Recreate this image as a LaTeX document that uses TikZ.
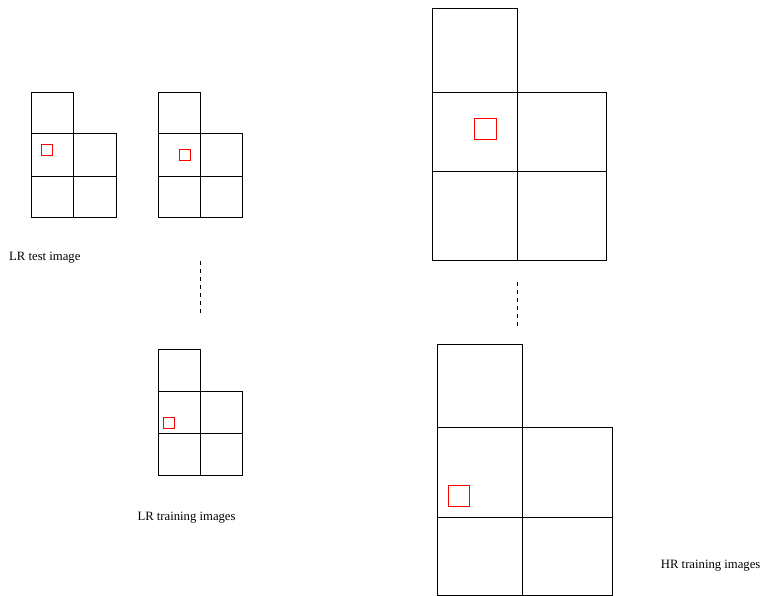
\documentclass[tikz,border=0pt]{standalone}
\usepackage{fontspec}
\setmainfont{Liberation Serif}
\newcommand\myLshape[7]{%
  \draw[cellline] (#1,#4) rectangle (#2,#5);
  \draw[cellline] (#1,#5) rectangle (#3,#7);
  \draw[cellline] (#2,#5) -- (#2,#7);
  \draw[cellline] (#1,#6) -- (#3,#6);
}
\begin{document}
\begin{tikzpicture}[x=1pt,y=-1pt,
  cellline/.style={draw=black,line width=0.9pt},
  patch/.style={draw=red,line width=0.8pt},
  lbl/.style={anchor=base west,inner sep=0pt,font=\fontsize{12.7}{15}\selectfont},
  dotline/.style={draw=black,line width=0.8pt,dash pattern=on 3.5pt off 4.5pt}]
\useasboundingbox (0,0) rectangle (760,596);
% LR test image
\myLshape{31.3}{73.3}{116}{92}{133.7}{176}{217.7}
\draw[patch] (41.7,144.3) rectangle (52.3,155.3);
% LR training image 1
\myLshape{158}{200.3}{242.7}{92}{133.7}{176}{217.7}
\draw[patch] (179,149.7) rectangle (190,160.3);
% LR training image 2
\myLshape{158}{200.3}{242.3}{349}{391}{433.3}{475}
\draw[patch] (163,417.3) rectangle (174,428);
% HR training image 1
\myLshape{432.3}{517.3}{606.7}{8}{92}{171}{260}
\draw[patch] (474.7,118.3) rectangle (496.3,139.3);
% HR training image 2
\myLshape{437.7}{522.3}{612.3}{344}{427.7}{517.3}{595.3}
\draw[patch] (448.3,485.3) rectangle (469.7,506.3);
% dashed continuation lines
\coordinate (d1a) at (200,261);
\coordinate (d1b) at (200,313);
\coordinate (d2a) at (517,282);
\coordinate (d2b) at (517,327);
\draw[dotline] (d1a) -- (d1b);
\draw[dotline] (d2a) -- (d2b);
% labels
\node[lbl] (t1) at (9,260) {LR test image};
\node[lbl] (t2) at (137.3,520.7) {LR training images};
\node[lbl] (t3) at (660.7,568.7) {HR training images};
\end{tikzpicture}
\end{document}
